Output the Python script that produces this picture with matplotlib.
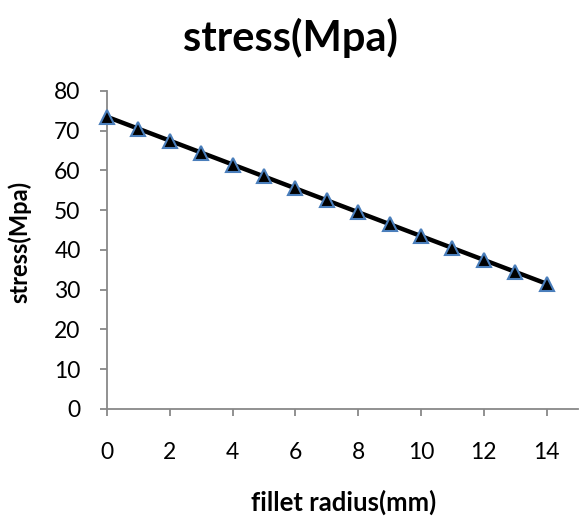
import numpy as np
import matplotlib.pyplot as plt

# fillet radius (mm) vs. stress (Mpa)
radius = [0, 1, 2, 3, 4, 5, 6, 7, 8, 9, 10, 11, 12, 13, 14]
stress = [73.5, 70.5, 67.5, 64.5, 61.5, 58.5, 55.5, 52.5, 49.5, 46.5, 43.5, 40.5, 37.5, 34.5, 31.5]

plt.rcParams['font.family'] = ['Lato', 'DejaVu Sans']

fig = plt.figure(figsize=(5.8, 5.19), dpi=100)
ax = fig.add_axes([0.1845, 0.212, 0.812, 0.6127])

ax.plot(radius, stress, color='black', lw=3.2, marker='^', ms=10,
        markerfacecolor='black', markeredgecolor='#4a7ebb', markeredgewidth=1.5,
        clip_on=False, zorder=3)

ax.set_xlim(0, 15)
ax.set_ylim(0, 80)
ax.set_xticks(np.arange(0, 15, 2))
ax.set_yticks(np.arange(0, 81, 10))

for side in ('top', 'right'):
    ax.spines[side].set_visible(False)
for side in ('left', 'bottom'):
    ax.spines[side].set_color('#888888')
    ax.spines[side].set_linewidth(1.3)
ax.tick_params(colors='#888888', width=1.3, length=5, labelcolor='black')
ax.tick_params(axis='x', pad=19)
ax.tick_params(axis='y', pad=14)
for lbl in ax.get_xticklabels() + ax.get_yticklabels():
    lbl.set_fontsize(16.5)

fig.text(0.5, 0.927, 'stress(Mpa)', ha='center', va='center', fontsize=30, fontweight='bold')
fig.text(0.592, 0.033, 'fillet radius(mm)', ha='center', va='center', fontsize=18.5, fontweight='bold')
fig.text(0.034, 0.534, 'stress(Mpa)', ha='center', va='center', rotation=90, fontsize=17, fontweight='bold')

fig.savefig('out.png', dpi=100, facecolor='white')
